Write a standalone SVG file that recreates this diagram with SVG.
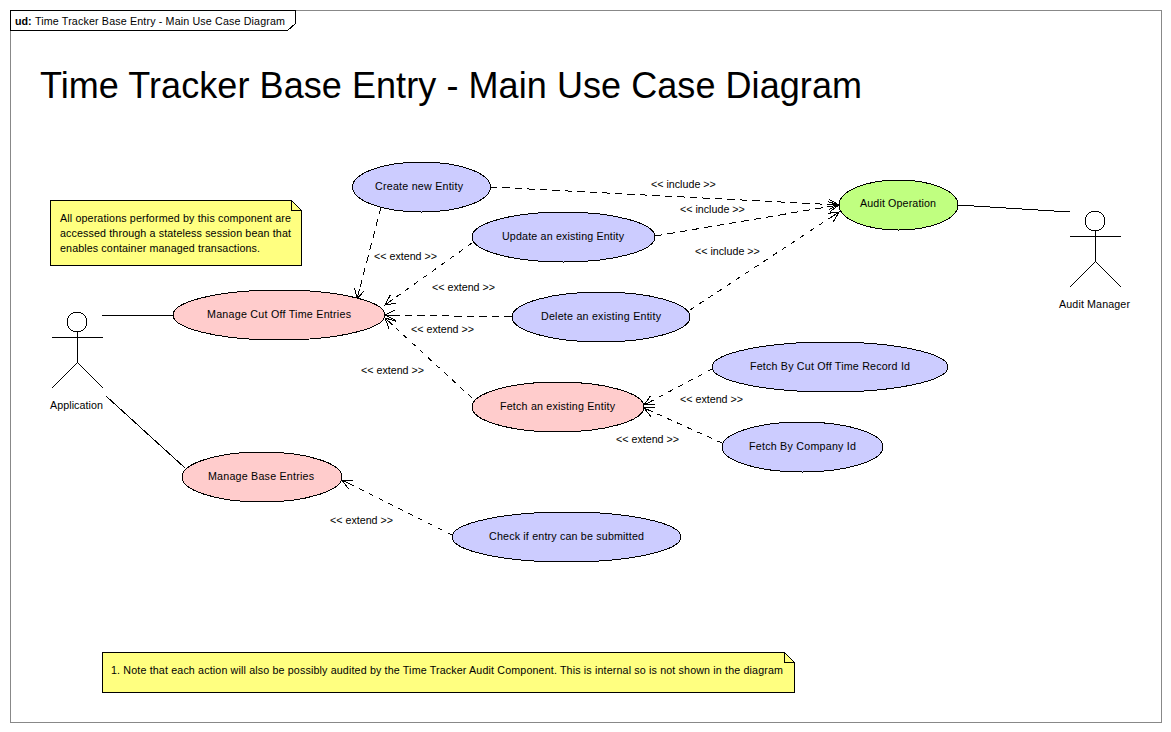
<svg xmlns="http://www.w3.org/2000/svg" width="1171" height="732" viewBox="0 0 1171 732">
<style>
text{font-family:"Liberation Sans",Arial,sans-serif;font-size:10.7px;fill:#000}
path,ellipse,circle,rect{shape-rendering:crispEdges}
.use{stroke:#000;stroke-width:1}
.blue{fill:#ccf}.pink{fill:#fcc}.green{fill:#c0ff80}
.note{fill:#ffff80;stroke:#000;stroke-width:1}
.fold{fill:none;stroke:#000;stroke-width:1}
.solid{fill:none;stroke:#000;stroke-width:1}
.dash{fill:none;stroke:#000;stroke-width:1;stroke-dasharray:7.5 5;marker-end:url(#open)}
.fine{stroke-dasharray:5 6}
.actor{fill:none;stroke:#000;stroke-width:1}
</style>
<defs>
<marker id="open" markerUnits="userSpaceOnUse" markerWidth="16" markerHeight="16" refX="13" refY="8" orient="auto" viewBox="0 0 16 16">
<path d="M3 3L13 8L3 13M3 8H13" fill="none" stroke="#000" stroke-width="1" stroke-dasharray="none"/>
</marker>
</defs>
<rect width="1171" height="732" fill="#fff"/>
<g id="frame">
<rect x="10.5" y="10.5" width="1151" height="712" fill="none" stroke="#888"/>
<path d="M10.5 10.5H295.5V23.5L287.5 30.5H10.5Z" fill="#fff" stroke="#000"/>
<text x="15" y="25" font-weight="bold">ud:</text>
<text x="35" y="25" textLength="250">Time Tracker Base Entry - Main Use Case Diagram</text>
</g>
<text id="title" x="40" y="98" style="font-size:36px" textLength="822">Time Tracker Base Entry - Main Use Case Diagram</text>
<g id="connectors">
<path class="solid" d="M102 315.5H173"/>
<path class="solid" d="M106 396L185 468"/>
<path class="solid" d="M958 205L1070 212"/>
<path class="dash" d="M490 187L839 205"/>
<path class="dash" d="M655 236L839 205"/>
<path class="dash fine" d="M690 310L839 212"/>
<path class="dash" d="M381 207L357 299"/>
<path class="dash fine" d="M472 243L385 305"/>
<path class="dash" d="M512 317L385 315"/>
<path class="dash fine" d="M472 398L385 318"/>
<path class="dash fine" d="M712 369L644 405"/>
<path class="dash fine" d="M722 443L644 408"/>
<path class="dash fine" d="M452 535L342 480"/>
</g>
<g id="connector-labels">
<text x="651" y="188">&lt;&lt; include &gt;&gt;</text>
<text x="680" y="213">&lt;&lt; include &gt;&gt;</text>
<text x="695" y="255">&lt;&lt; include &gt;&gt;</text>
<text x="374" y="260">&lt;&lt; extend &gt;&gt;</text>
<text x="432" y="291">&lt;&lt; extend &gt;&gt;</text>
<text x="411" y="333">&lt;&lt; extend &gt;&gt;</text>
<text x="361" y="374">&lt;&lt; extend &gt;&gt;</text>
<text x="680" y="403">&lt;&lt; extend &gt;&gt;</text>
<text x="616" y="443">&lt;&lt; extend &gt;&gt;</text>
<text x="330" y="524">&lt;&lt; extend &gt;&gt;</text>
</g>
<g id="note-operations">
<path class="note" d="M50.5 200.5H291.5L301.5 210.5V265.5H50.5Z"/>
<path class="fold" d="M291.5 200.5V210.5H301.5"/>
<text x="60" y="222" textLength="231">All operations performed by this component are</text>
<text x="60" y="237" textLength="231">accessed through a stateless session bean that</text>
<text x="60" y="252" textLength="200">enables container managed transactions.</text>
</g>
<g id="note-audit">
<path class="note" d="M102.5 652.5H784.5L794.5 662.5V692.5H102.5Z"/>
<path class="fold" d="M784.5 652.5V662.5H794.5"/>
<text x="111" y="674" textLength="672">1. Note that each action will also be possibly audited by the Time Tracker Audit Component. This is internal so is not shown in the diagram</text>
</g>
<g id="uc-create"><ellipse class="use blue" cx="421.5" cy="187" rx="69" ry="25"/><text x="375" y="190" textLength="88">Create new Entity</text></g>
<g id="uc-update"><ellipse class="use blue" cx="563.5" cy="237" rx="91.5" ry="25"/><text x="502" y="240" textLength="122">Update an existing Entity</text></g>
<g id="uc-delete"><ellipse class="use blue" cx="601" cy="317" rx="89" ry="25"/><text x="541" y="320" textLength="120">Delete an existing Entity</text></g>
<g id="uc-manage-cutoff"><ellipse class="use pink" cx="279" cy="315" rx="106" ry="25"/><text x="207" y="318" textLength="144">Manage Cut Off Time Entries</text></g>
<g id="uc-fetch"><ellipse class="use pink" cx="558" cy="407" rx="86" ry="25"/><text x="500" y="410" textLength="115">Fetch an existing Entity</text></g>
<g id="uc-fetch-cutoff"><ellipse class="use blue" cx="830" cy="367" rx="118" ry="25"/><text x="750" y="370" textLength="160">Fetch By Cut Off Time Record Id</text></g>
<g id="uc-fetch-company"><ellipse class="use blue" cx="802.5" cy="447" rx="80.5" ry="25"/><text x="749" y="450" textLength="107">Fetch By Company Id</text></g>
<g id="uc-manage-base"><ellipse class="use pink" cx="262" cy="477" rx="80" ry="25"/><text x="208" y="480" textLength="106">Manage Base Entries</text></g>
<g id="uc-check"><ellipse class="use blue" cx="566.5" cy="537" rx="114.5" ry="25"/><text x="489" y="540" textLength="155">Check if entry can be submitted</text></g>
<g id="uc-audit"><ellipse class="use green" cx="898.5" cy="205" rx="59.5" ry="25"/><text x="860" y="207" textLength="76">Audit Operation</text></g>
<g id="actor-application">
<circle class="actor" cx="77" cy="322" r="10"/>
<path class="actor" d="M52 337.5H103M77.5 332V362.5M77.5 362.5L52 388M77.5 362.5L103 388"/>
<text x="50" y="409" textLength="53">Application</text>
</g>
<g id="actor-audit-manager">
<circle class="actor" cx="1095" cy="221" r="10"/>
<path class="actor" d="M1070 236.5H1121M1095.5 231V261.5M1095.5 261.5L1070 287M1095.5 261.5L1121 287"/>
<text x="1059" y="308" textLength="71">Audit Manager</text>
</g>
</svg>
